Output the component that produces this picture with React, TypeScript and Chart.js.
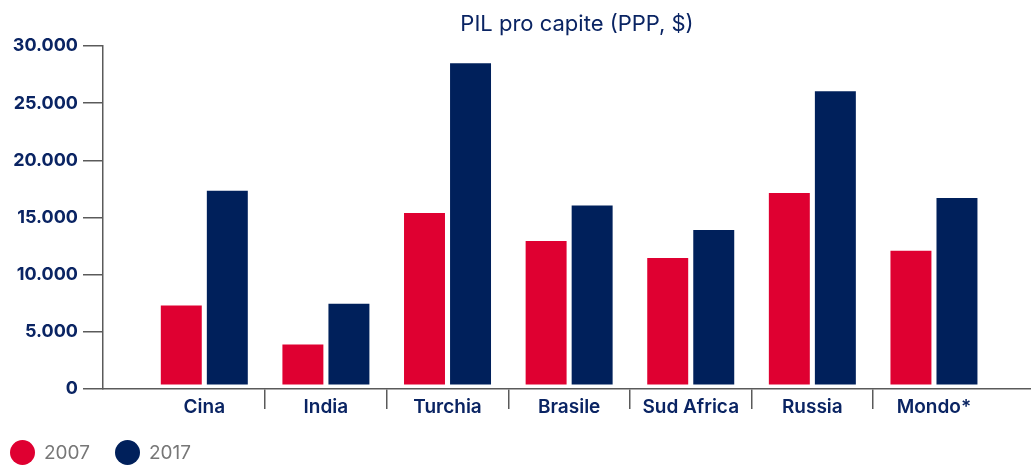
import React, { useEffect, useRef } from "react";
import { Chart, registerables } from "chart.js";

Chart.register(...registerables);

const categories = ["Cina", "India", "Turchia", "Brasile", "Sud Africa", "Russia", "Mondo*"];
const values2007 = [7300, 3900, 15400, 12950, 11450, 17150, 12100];
const values2017 = [17350, 7450, 28500, 16050, 13900, 26050, 16700];
const seriesLabels = ["2007", "2017"];
const yTicks = [0, 5000, 10000, 15000, 20000, 25000, 30000];
const titleText = "PIL pro capite (PPP, $)";

const RED = "#DF0031";
const NAVY = "#00205B";
const TEXT_NAVY = "#0A2463";
const AXIS = "#5a5a5a";
const FONT = "Inter, 'DejaVu Sans', sans-serif";

const fmt = (v: number) => String(v).replace(/\B(?=(\d{3})+(?!\d))/g, ".");

export default function App() {
  const ref = useRef<HTMLCanvasElement | null>(null);

  useEffect(() => {
    if (!ref.current) return;
    const chart = new Chart(ref.current, {
      type: "bar",
      data: {
        datasets: [
          {
            label: seriesLabels[0],
            data: values2007.map((v, i) => ({ x: i, y: v })),
            backgroundColor: RED,
            base: 400,
          } as any,
          {
            label: seriesLabels[1],
            data: values2017.map((v, i) => ({ x: i, y: v })),
            backgroundColor: NAVY,
            base: 400,
          } as any,
        ],
      },
      options: {
        animation: false,
        responsive: true,
        maintainAspectRatio: false,
        layout: { padding: { top: 46, right: 0, bottom: 0, left: 0 } },
        datasets: { bar: { categoryPercentage: 0.757, barPercentage: 0.89 } },
        plugins: {
          legend: { display: false },
          title: { display: false },
          tooltip: { enabled: false },
        },
        scales: {
          x: {
            type: "linear",
            min: -0.833,
            max: 6.798,
            offset: false,
            afterBuildTicks: (scale: any) => {
              scale.ticks = categories.map((_, i) => ({ value: i }));
            },
            afterFit: (scale: any) => {
              scale.height = 76;
            },
            ticks: {
              autoSkip: false,
              maxRotation: 0,
              padding: -13,
              color: TEXT_NAVY,
              font: { family: FONT, size: 19, weight: 600 },
              callback: (v: any) => categories[v as number] ?? "",
            },
            grid: {
              offset: true,
              drawOnChartArea: false,
              drawTicks: true,
              tickLength: 20,
              lineWidth: 1.5,
              color: (ctx: any) =>
                typeof ctx.index !== "number" || ctx.index === 0 || ctx.index >= categories.length
                  ? "rgba(0,0,0,0)"
                  : AXIS,
            },
            border: { display: true, color: AXIS, width: 1.5 },
          },
          y: {
            type: "linear",
            min: 0,
            max: 30000,
            afterBuildTicks: (scale: any) => {
              scale.ticks = yTicks.map((v) => ({ value: v }));
            },
            afterFit: (scale: any) => {
              scale.width = 103;
            },
            ticks: {
              padding: 5,
              color: TEXT_NAVY,
              font: { family: FONT, size: 18, weight: 700 },
              callback: (v: any) => fmt(v as number),
            },
            grid: {
              drawOnChartArea: false,
              drawTicks: true,
              tickLength: 20,
              lineWidth: 1.5,
              color: AXIS,
            },
            border: { display: true, color: AXIS, width: 1.5 },
          },
        },
      },
    });
    return () => chart.destroy();
  }, []);

  const legendItem = (color: string, text: string, left: number) => (
    <div style={{ position: "absolute", left, top: 440, display: "flex", alignItems: "center" }}>
      <span
        style={{ display: "inline-block", width: 25, height: 25, borderRadius: "50%", background: color }}
      />
      <span
        style={{ marginLeft: 9, fontFamily: FONT, fontSize: 19, color: "#777", lineHeight: "25px" }}
      >
        {text}
      </span>
    </div>
  );

  return (
    <div style={{ position: "absolute", left: 0, top: 0, width: 1031, height: 465, background: "#fff", overflow: "hidden" }}>
      <canvas ref={ref} style={{ position: "absolute", left: 0, top: 0 }} />
      <div
        style={{
          position: "absolute",
          left: 377,
          width: 400,
          top: 10,
          textAlign: "center",
          fontFamily: FONT,
          fontSize: 22,
          lineHeight: "26px",
          color: TEXT_NAVY,
        }}
      >
        {titleText}
      </div>
      {legendItem(RED, seriesLabels[0], 10)}
      {legendItem(NAVY, seriesLabels[1], 115)}
    </div>
  );
}
